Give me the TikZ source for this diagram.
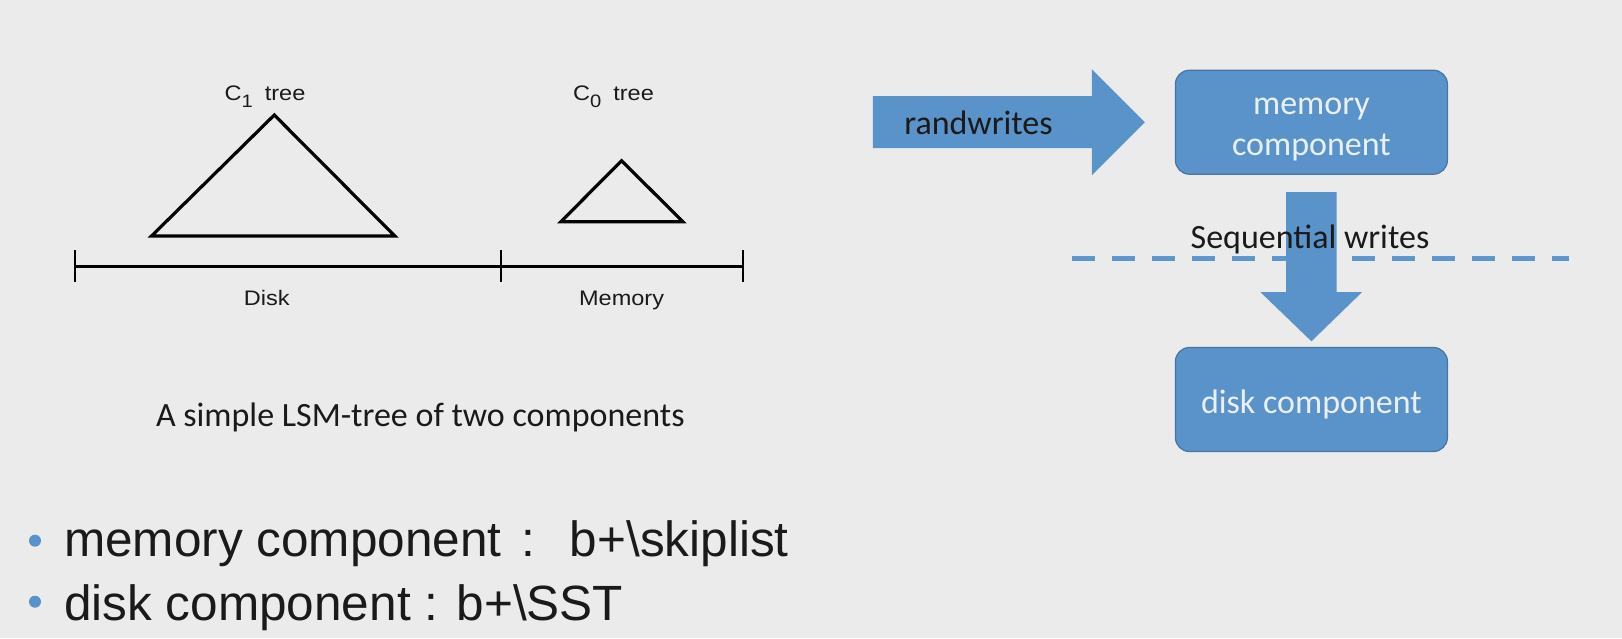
\documentclass[tikz,border=0pt]{standalone}
\usepackage{fontspec}
\setmainfont{Liberation Sans}
\newfontfamily\calibri{Carlito}
\newfontfamily\widesans[FakeStretch=1.12]{Liberation Sans}
\usetikzlibrary{positioning,calc}

\definecolor{slidebg}{HTML}{EBEBEB}
\definecolor{boxblue}{HTML}{5A93CA}
\definecolor{boxline}{HTML}{4775A6}
\definecolor{dashblue}{HTML}{5D97CE}
\definecolor{boxtext}{HTML}{EAF0F7}
\definecolor{ink}{HTML}{1A1A1A}

\begin{document}
\begin{tikzpicture}[x=1pt,y=-1pt,
    comp/.style={draw=boxline, line width=1.2pt, fill=boxblue, rounded corners=14pt,
      minimum width=272pt, minimum height=104pt, inner sep=0pt, align=center,
      text=boxtext, font=\calibri\fontsize{34}{41}\selectfont},
    blockarrow/.style={fill=boxblue},
    treelbl/.style={font=\widesans\fontsize{21}{25}\selectfont, inner sep=0pt, anchor=base, text=ink},
    slidetxt/.style={font=\calibri\fontsize{34}{41}\selectfont, inner sep=0pt, anchor=base, text=ink},
    bullet/.style={circle, fill=boxblue, inner sep=0pt, minimum size=12pt},
    point/.style={font=\fontsize{49.5}{59}\selectfont, inner sep=0pt, anchor=base west, text=ink}]

  \fill[slidebg] (0,0) rectangle (1622,638);
  \useasboundingbox (0,0) rectangle (1622,638);

  % LSM-tree sketch
  \draw[line width=3.2pt] (151.5,236) -- (274.3,115) -- (394.8,236) -- cycle;
  \draw[line width=3.2pt] (560.9,221.7) -- (621.6,160.7) -- (682.8,221.7) -- cycle;
  \draw[line width=3.2pt] (74.7,266.7) -- (743,266.7);
  \foreach \x in {74.7,501,743}
    \draw[line width=2pt] (\x,250) -- (\x,282);

  \node[treelbl] (c1) at (265,100.7) {C\raisebox{-6.6pt}{\fontsize{18}{21}\selectfont 1}\hspace{12pt}tree};
  \node[treelbl] (c0) at (613.5,100.7) {C\raisebox{-6.6pt}{\fontsize{18}{21}\selectfont 0}\hspace{12pt}tree};
  \node[treelbl] (disklbl) at (266.7,305) {Disk};
  \node[treelbl] (memlbl) at (621.6,305) {Memory};
  \node[slidetxt] (caption) at (420.3,426.7) {A simple LSM-tree of two components};

  % write path
  \draw[dashblue, line width=5.5pt, dash pattern=on 23.3pt off 16.7pt] (1071.7,258.3) -- (1569,258.3);
  \node[comp] (mem) at (1311.4,122.2) {\rule{0pt}{32pt}memory\\component};
  \node[comp] (disk) at (1311.4,399.5) {\rule{0pt}{33pt}disk component};

  \fill[blockarrow] ($(mem.west)+(-302,-26)$) -- ++(219,0) -- ++(0,-27)
    -- ($(mem.west)+(-30,0)$) -- ($(mem.west)+(-83,53)$) -- ++(0,-27)
    -- ($(mem.west)+(-302,26)$) -- cycle;
  \node[slidetxt] (rw) at (978.5,134) {randwrites};

  \fill[blockarrow] ($(mem.south)+(-25.3,17.4)$) -- ++(50.6,0) -- ++(0,100) -- ++(25.3,0)
    -- ($(disk.north)+(0,-5.6)$) -- ($(mem.south)+(-50.9,117.4)$) -- ++(25.6,0) -- cycle;
  \node[slidetxt] (seq) at (1310,248.5) {Sequential writes};

  % bullet points
  \node[bullet] (b1) at (35,540.7) {};
  \node[bullet] (b2) at (35,601.7) {};
  \node[point] (p1) at (64,556.7) {memory component\hspace{19.6pt}:\hspace{35pt}b+\textbackslash skiplist};
  \node[point] (p2) at (64,620) {disk component : b+\textbackslash SST};
\end{tikzpicture}
\end{document}
